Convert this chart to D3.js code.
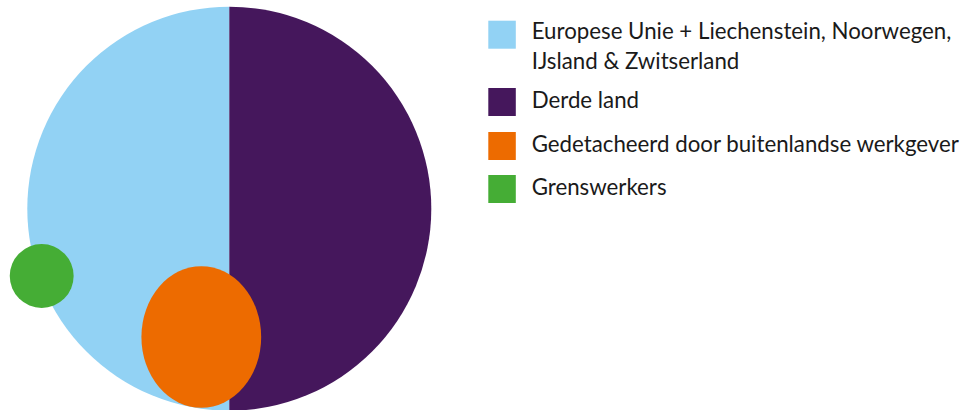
<!DOCTYPE html>
<html><head><meta charset="utf-8">
<script src="https://cdn.jsdelivr.net/npm/d3@7"></script>
<style>
html,body{margin:0;padding:0;background:#fff;}
svg{display:block;}
</style></head>
<body>
<script>
// Data
const categories = ["Europese Unie + Liechenstein, Noorwegen, IJsland & Zwitserland", "Derde land", "Gedetacheerd door buitenlandse werkgever", "Grenswerkers"];
const legendLines = [["Europese Unie + Liechenstein, Noorwegen,", "IJsland & Zwitserland"], ["Derde land"], ["Gedetacheerd door buitenlandse werkgever"], ["Grenswerkers"]];
const pieValues = [50, 50];          // EU, Derde land (halves of big circle)
const bubbleValues = [10.4, 2.5];    // Gedetacheerd, Grenswerkers (area share of whole circle, %)
const colors = ["#92d2f4", "#45175c", "#ed6b00", "#45ad35"];

const W = 962, H = 410;
const svg = d3.select("body").append("svg").attr("width", W).attr("height", H);

const cx = 229.3, cy = 208.7, R = 202;
const total = d3.sum(pieValues);
const rScale = d3.scaleSqrt().domain([0, total]).range([0, R]);

const pie = d3.pie().sort(null).startAngle(Math.PI).endAngle(3 * Math.PI);
const arc = d3.arc().innerRadius(0).outerRadius(R);
const g = svg.append("g").attr("transform", `translate(${cx},${cy})`);
g.selectAll("path.slice").data(pie(pieValues)).join("path")
  .attr("class", "slice").attr("d", arc).attr("fill", (d, i) => colors[i]);

// bubbles: orange ellipse (slightly taller), green circle
const rOr = rScale(bubbleValues[0]);
const aspect = 71 / 60;
g.append("ellipse")
  .attr("cx", 201.3 - cx).attr("cy", 337 - cy)
  .attr("rx", rOr / Math.sqrt(aspect)).attr("ry", rOr * Math.sqrt(aspect))
  .attr("fill", colors[2]);
g.append("circle")
  .attr("cx", 41.7 - cx).attr("cy", 276 - cy)
  .attr("r", rScale(bubbleValues[1]))
  .attr("fill", colors[3]);

// legend
const legY = [20.7, 88, 132, 175];
const baseOff = [18.6, 20.3, 20.3, 20.3];
const lg = svg.append("g").attr("font-family", "Lato, sans-serif").attr("fill", "#1a1a1a");
let fs = 20;
legendLines.forEach((lines, i) => {
  lg.append("rect").attr("x", 488.3).attr("y", legY[i]).attr("width", 27.5).attr("height", 28).attr("fill", colors[i]);
  lines.forEach((t, j) => {
    lg.append("text").attr("class", "lt").attr("x", 531.7).attr("y", legY[i] + baseOff[i] + j * 29.3)
      .attr("font-size", fs).text(t);
  });
});
// fit font size to reference width of the longest line
const longest = lg.selectAll("text.lt").filter(function(){ return this.textContent.startsWith("Gedetacheerd"); }).node();
const w = longest.getComputedTextLength();
const nfs = fs * 427.5 / w;
lg.selectAll("text.lt").attr("font-size", nfs);
</script>
</body></html>
